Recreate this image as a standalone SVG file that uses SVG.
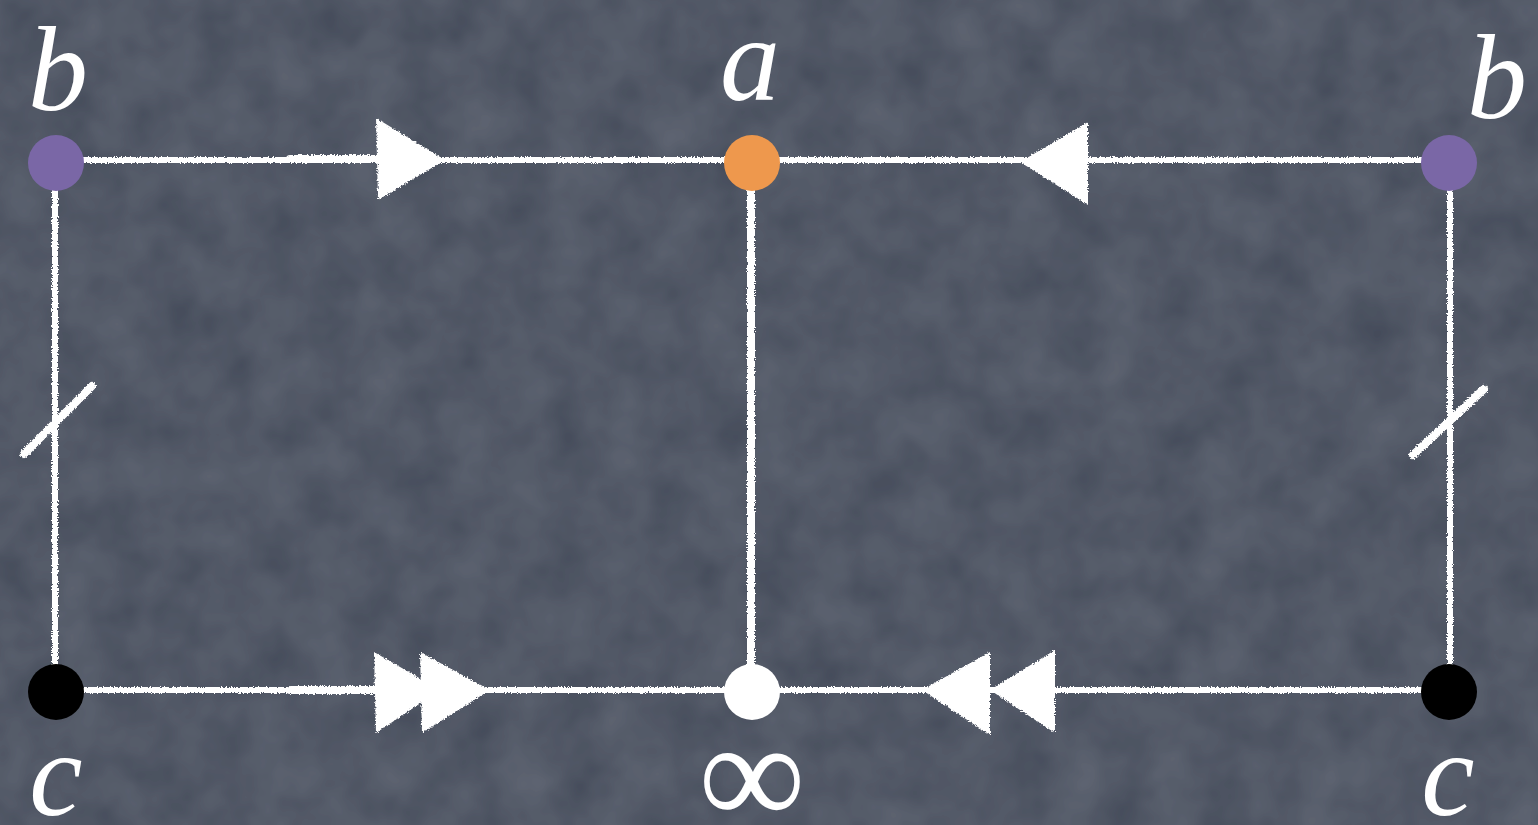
<svg xmlns="http://www.w3.org/2000/svg" width="1538" height="825" viewBox="0 0 1538 825">
  <defs>
    <filter id="board" x="0" y="0" width="100%" height="100%">
      <feTurbulence type="fractalNoise" baseFrequency="0.02" numOctaves="3" seed="4" result="n"/>
      <feColorMatrix in="n" type="matrix" values="0 0 0 0 0.33  0 0 0 0 0.36  0 0 0 0 0.43  0 0 0 0.22 0" result="c"/>
      <feComposite in="c" in2="SourceGraphic" operator="over"/>
    </filter>
    <filter id="chalk" x="-5%" y="-20%" width="110%" height="140%">
      <feTurbulence type="fractalNoise" baseFrequency="0.7" numOctaves="2" seed="2" result="t"/>
      <feDisplacementMap in="SourceGraphic" in2="t" scale="4" xChannelSelector="R" yChannelSelector="G"/>
    </filter>
    <style>
      .edge { stroke: #ffffff; stroke-width: 6; fill: none; stroke-linecap: round; }
      .thick { stroke-width: 8; }
      .head { fill: #ffffff; }
      .lbl { font-family: "Liberation Serif", "DejaVu Serif", serif; font-style: italic; font-size: 120px; fill: #ffffff; text-anchor: middle; }
      .inf { font-family: "Liberation Serif", "DejaVu Serif", serif; font-size: 150px; fill: #ffffff; text-anchor: middle; }
    </style>
  </defs>
  <rect width="1538" height="825" fill="#424958" filter="url(#board)"/>

  <g id="connectors" filter="url(#chalk)">
    <line class="edge" x1="56" y1="160" x2="752" y2="160"/>
    <line class="edge" x1="752" y1="160" x2="1449" y2="160"/>
    <line class="edge" x1="56" y1="690" x2="752" y2="690"/>
    <line class="edge" x1="752" y1="690" x2="1449" y2="690"/>
    <line class="edge" x1="55" y1="163" x2="55" y2="692"/>
    <line class="edge" x1="1450" y1="163" x2="1450" y2="692"/>
    <line class="edge thick" x1="751" y1="163" x2="751" y2="692"/>
    <line class="edge thick" x1="290" y1="159" x2="380" y2="159"/>
    <line class="edge thick" x1="290" y1="690" x2="380" y2="690"/>
    <polygon class="head" points="376,118 445,160 378,200"/>
    <polygon class="head" points="1088,122 1020,162 1088,205"/>
    <polygon class="head" points="374,652 440,690 376,733"/>
    <polygon class="head" points="420,652 490,690 422,733"/>
    <polygon class="head" points="990,652 922,690 990,735"/>
    <polygon class="head" points="1055,650 990,690 1055,733"/>
    <line class="edge thick" x1="24" y1="454" x2="92" y2="386"/>
    <line class="edge thick" x1="1413" y1="455" x2="1484" y2="389"/>
  </g>

  <g id="node-b-left">
    <circle cx="56" cy="163" r="28" fill="#7a67a6"/>
    <text class="lbl" x="58" y="110">b</text>
  </g>
  <g id="node-a">
    <circle cx="752" cy="163" r="28" fill="#ee984d"/>
    <text class="lbl" x="750" y="100">a</text>
  </g>
  <g id="node-b-right">
    <circle cx="1449" cy="163" r="28" fill="#7a67a6"/>
    <text class="lbl" x="1497" y="118">b</text>
  </g>
  <g id="node-c-left">
    <circle cx="56" cy="692" r="28" fill="#000000"/>
    <text class="lbl" x="56" y="815">c</text>
  </g>
  <g id="node-infinity">
    <circle cx="752" cy="692" r="28" fill="#ffffff"/>
    <text class="inf" x="752" y="825">∞</text>
  </g>
  <g id="node-c-right">
    <circle cx="1449" cy="692" r="28" fill="#000000"/>
    <text class="lbl" x="1448" y="815">c</text>
  </g>
</svg>
